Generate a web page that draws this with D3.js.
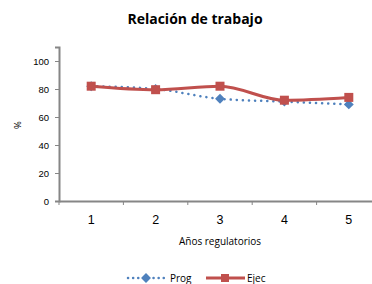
<!DOCTYPE html>
<html>
<head>
<meta charset="utf-8">
<script src="https://cdn.jsdelivr.net/npm/d3@7"></script>
<style>
  body { margin: 0; background: #fff; }
  svg { font-family: "Open Sans", sans-serif; }
</style>
</head>
<body>
<div class="chart-container"></div>
<script>
var totalWidth = 372;
var totalHeight = 284;

var years = [1, 2, 3, 4, 5];
var prog = [82, 80, 73, 71, 69];
var ejec = [82, 79.5, 82, 72, 74];
var yTicks = [0, 20, 40, 60, 80, 100];

var margin = { top: 47, left: 59, bottom: 83, right: -9 };
var width = totalWidth - margin.left - margin.right;
var height = totalHeight - margin.top - margin.bottom;

var svg = d3.select('.chart-container').append('svg')
  .attr('width', totalWidth)
  .attr('height', totalHeight);

var x = d3.scaleBand().domain(years).range([0, width]);
var y = d3.scaleLinear().domain([0, 110]).range([height, 0]);

var g = svg.append('g')
  .attr('transform', `translate(${margin.left},${margin.top})`);

// axes
var gY = g.append('g')
  .call(d3.axisLeft(y).tickValues(yTicks).tickSize(4).tickPadding(6));
var gX = g.append('g')
  .attr('transform', `translate(0,${height})`)
  .call(d3.axisBottom(x).tickSize(0).tickPadding(14));

gX.selectAll('.tick').append('line')
  .attr('x1', -x.bandwidth() / 2).attr('x2', -x.bandwidth() / 2)
  .attr('y1', 0).attr('y2', 4);

[gX, gY].forEach(a => {
  a.select('.domain').attr('stroke', '#868686').attr('stroke-width', 2);
  a.selectAll('.tick line').attr('stroke', '#868686');
  a.selectAll('text').attr('fill', '#000');
});
gY.selectAll('text').attr('font-size', 9.5);
gX.selectAll('text').attr('font-size', 12.5);

var cx = d => x(d) + x.bandwidth() / 2;

var line = d3.line().curve(d3.curveMonotoneX);

g.append('path')
  .attr('d', line(years.map((d, i) => [cx(d), y(prog[i])])))
  .attr('fill', 'none')
  .attr('stroke', '#4F81BD')
  .attr('stroke-width', 2.5)
  .attr('stroke-linecap', 'round')
  .attr('stroke-dasharray', '0.1 6');

g.selectAll('.prog-pt').data(years).enter()
  .append('rect')
    .attr('class', 'prog-pt')
    .attr('x', -3.5).attr('y', -3.5)
    .attr('width', 7).attr('height', 7)
    .attr('fill', '#4F81BD')
    .attr('transform', (d, i) => `translate(${cx(d)},${y(prog[i])}) rotate(45)`);

g.append('path')
  .attr('d', line(years.map((d, i) => [cx(d), y(ejec[i])])))
  .attr('fill', 'none')
  .attr('stroke', '#C0504D')
  .attr('stroke-width', 3);

g.selectAll('.ejec-pt').data(years).enter()
  .append('rect')
    .attr('class', 'ejec-pt')
    .attr('x', d => cx(d) - 4.5)
    .attr('y', (d, i) => y(ejec[i]) - 4.5)
    .attr('width', 9).attr('height', 9)
    .attr('fill', '#C0504D');

// titles
svg.append('text')
  .text('Relación de trabajo')
  .attr('x', 195).attr('y', 24)
  .attr('text-anchor', 'middle')
  .attr('font-size', 14).attr('font-weight', 'bold');

svg.append('text')
  .text('%')
  .attr('transform', 'translate(21,125) rotate(-90)')
  .attr('text-anchor', 'middle')
  .attr('font-size', 9.5);

svg.append('text')
  .text('Años regulatorios')
  .attr('x', 220).attr('y', 245)
  .attr('text-anchor', 'middle')
  .attr('font-size', 10);

// legend
var leg = svg.append('g').attr('transform', 'translate(0,278)');
leg.append('line')
  .attr('x1', 128).attr('x2', 164).attr('y1', 0).attr('y2', 0)
  .attr('stroke', '#4F81BD').attr('stroke-width', 2.5)
  .attr('stroke-linecap', 'round').attr('stroke-dasharray', '0.1 5');
leg.append('rect')
  .attr('x', -3.5).attr('y', -3.5).attr('width', 7).attr('height', 7)
  .attr('fill', '#4F81BD')
  .attr('transform', 'translate(146,0) rotate(45)');
leg.append('text').text('Prog')
  .attr('x', 170).attr('y', 4).attr('font-size', 10);

leg.append('line')
  .attr('x1', 206).attr('x2', 245).attr('y1', 0).attr('y2', 0)
  .attr('stroke', '#C0504D').attr('stroke-width', 3);
leg.append('rect')
  .attr('x', 221).attr('y', -4).attr('width', 8).attr('height', 8)
  .attr('fill', '#C0504D');
leg.append('text').text('Ejec')
  .attr('x', 247).attr('y', 4).attr('font-size', 10);
</script>
</body>
</html>
